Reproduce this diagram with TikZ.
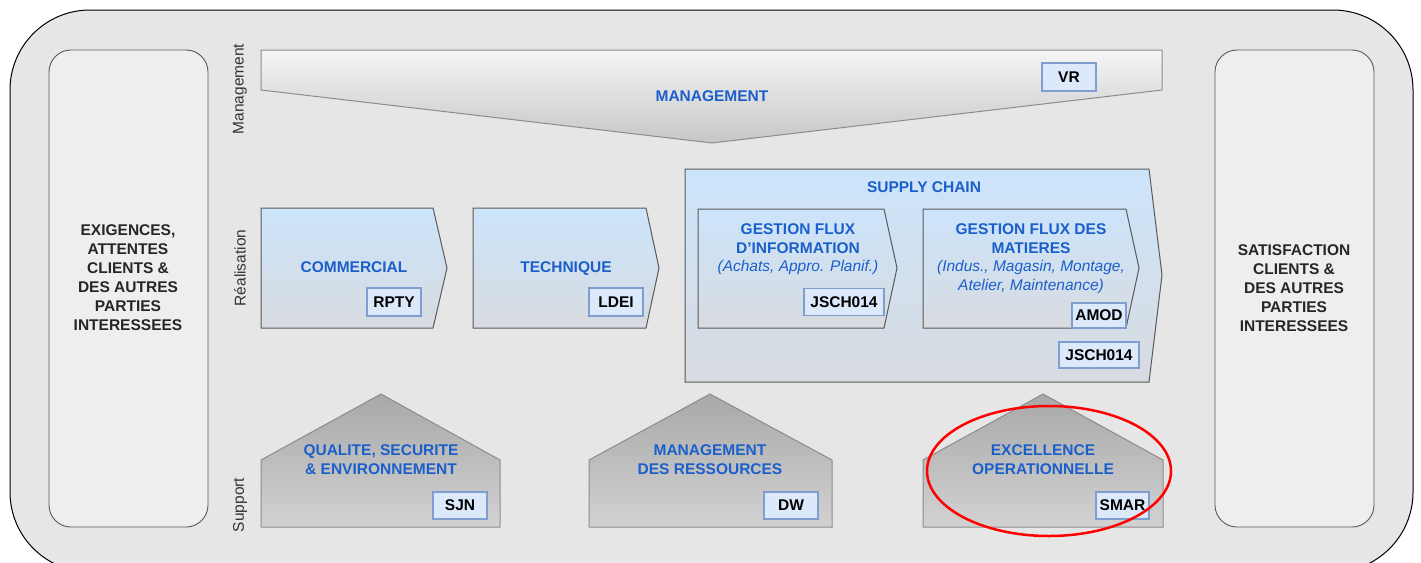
\documentclass[tikz,border=0pt]{standalone}
\usepackage{fontspec}
\setmainfont{Liberation Sans}
\definecolor{tblue}{HTML}{1B5FCB}
\definecolor{tagfill}{HTML}{DCE9FB}
\definecolor{tagborder}{HTML}{7F9ECF}
\definecolor{bgfill}{HTML}{E6E6E6}
\definecolor{sidefill}{HTML}{EEEEEE}
\definecolor{sideline}{HTML}{5A5A5A}
\definecolor{arrtop}{HTML}{CCE4FB}
\definecolor{arrbot}{HTML}{D8DBE0}
\definecolor{houtop}{HTML}{A8A8A8}
\definecolor{houbot}{HTML}{D2D2D2}
\definecolor{mgtop}{HTML}{F6F6F6}
\definecolor{mgbot}{HTML}{C6C6C6}
\begin{document}
\begin{tikzpicture}[x=1pt,y=-1pt,
  bfont/.style={font=\fontsize{15.5}{19}\selectfont\bfseries},
  lbl/.style={bfont, text=tblue, align=center, inner sep=0pt},
  sub/.style={font=\fontsize{15.5}{19}\selectfont\itshape, text=tblue, align=center, inner sep=0pt},
  sidetxt/.style={bfont, text=black!85, align=center, inner sep=0pt},
  tag/.style={draw=tagborder, fill=tagfill, line width=1.2pt, bfont, text=black, inner sep=0pt},
  rowlbl/.style={font=\fontsize{15.5}{19}\selectfont, text=black!80, rotate=90, inner sep=0pt},
  sidebox/.style={draw=sideline, fill=sidefill, line width=0.9pt, rounded corners=22pt},
  bluearrow/.style={draw=black!65, line width=1pt, top color=arrtop, bottom color=arrbot},
  house/.style={draw=black!45, line width=1pt, top color=houtop, bottom color=houbot},
  wedge/.style={draw=black!45, line width=1pt, top color=mgtop, bottom color=mgbot}]
\useasboundingbox (0,0) rectangle (1421,562);
\clip (0,0) rectangle (1421,562);
% outer frame
\draw[fill=bgfill, line width=1pt, rounded corners=80pt] (10,10) rectangle (1413,572);
% side boxes
\draw[sidebox] (49,50) rectangle (208,527);
\draw[sidebox] (1215,50) rectangle (1374,527);
\node[sidetxt] (exig) at (128,278) {EXIGENCES,\\ATTENTES\\CLIENTS \&\\DES AUTRES\\PARTIES\\INTERESSEES};
\node[sidetxt] (satis) at (1294,288) {SATISFACTION\\CLIENTS \&\\DES AUTRES\\PARTIES\\INTERESSEES};
% row labels
\node[rowlbl] (rmgmt) at (240,89) {Management};
\node[rowlbl] (rreal) at (240,268) {Réalisation};
\node[rowlbl] (rsupp) at (240,505) {Support};
% management wedge
\draw[wedge] (261,50) -- (1162,50) -- (1162,90) -- (712,143) -- (261,90) -- cycle;
\node[lbl] (mgmt) at (712,96) {MANAGEMENT};
\node[tag, minimum width=54pt, minimum height=28pt] (vr) at (1069,77) {VR};
% realisation
\draw[bluearrow] (261,208) -- (433,208) -- (447,268) -- (433,328) -- (261,328) -- cycle;
\node[lbl] (comm) at (354,267) {COMMERCIAL};
\node[tag, minimum width=54pt, minimum height=28pt] (rpty) at (394,302) {RPTY};
\draw[bluearrow] (473,208) -- (646,208) -- (659,268) -- (646,328) -- (473,328) -- cycle;
\node[lbl] (tech) at (566,269) {TECHNIQUE};
\node[tag, minimum width=54pt, minimum height=28pt] (ldei) at (616,302) {LDEI};
% supply chain
\draw[bluearrow] (685,169) -- (1149,169) -- (1162,275) -- (1149,382) -- (685,382) -- cycle;
\node[lbl] (sc) at (924,187) {SUPPLY CHAIN};
\draw[bluearrow] (698,209) -- (884,209) -- (897,268) -- (884,328) -- (698,328) -- cycle;
\node[lbl] (gfi) at (798,239) {GESTION FLUX\\D{\char39}INFORMATION};
\node[sub] (gfisub) at (798,267) {(Achats, Appro. Planif.)};
\node[tag, minimum width=80pt, minimum height=27pt] (js1) at (844,302) {JSCH014};
\draw[bluearrow] (923,209) -- (1126,209) -- (1139,268) -- (1126,328) -- (923,328) -- cycle;
\node[lbl] (gfm) at (1031,239) {GESTION FLUX DES\\MATIERES};
\node[sub] (gfmsub) at (1031,277) {(Indus., Magasin, Montage,\\Atelier, Maintenance)};
\node[tag, minimum width=54pt, minimum height=25pt] (amod) at (1099,315.5) {AMOD};
\node[tag, minimum width=80pt, minimum height=26pt] (js2) at (1099,355) {JSCH014};
% support houses
\draw[house] (261,527) -- (261,460) -- (381,394) -- (500,460) -- (500,527) -- cycle;
\node[lbl] (qse) at (381,460) {QUALITE, SECURITE\\\& ENVIRONNEMENT};
\node[tag, minimum width=54pt, minimum height=27pt] (sjn) at (460,505.5) {SJN};
\draw[house] (589,527) -- (589,460) -- (710,394) -- (832,460) -- (832,527) -- cycle;
\node[lbl] (mdr) at (710,460) {MANAGEMENT\\DES RESSOURCES};
\node[tag, minimum width=54pt, minimum height=27pt] (dw) at (791,505.5) {DW};
\draw[house] (923,527) -- (923,460) -- (1043,394) -- (1163,460) -- (1163,527) -- cycle;
\node[lbl] (exo) at (1043,460) {EXCELLENCE\\OPERATIONNELLE};
\node[tag, minimum width=53pt, minimum height=27pt] (smar) at (1122.5,505.5) {SMAR};
% highlight
\draw[red, line width=2.5pt] (1049,471) ellipse [x radius=122, y radius=65];
\end{tikzpicture}
\end{document}
